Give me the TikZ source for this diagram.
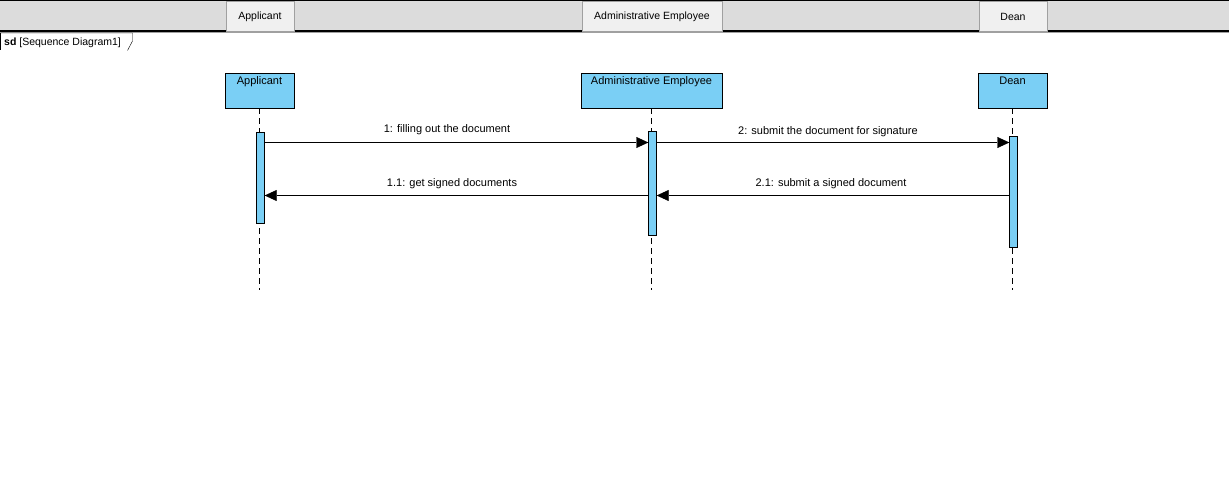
\documentclass[tikz,border=0pt]{standalone}
\usepackage{fontspec}
\setmainfont{Liberation Sans}
\usetikzlibrary{arrows.meta}

\definecolor{barGray}{HTML}{DCDCDC}
\definecolor{hdrFill}{HTML}{F0F0F0}
\definecolor{hdrLine}{HTML}{A0A0A0}
\definecolor{lifeBlue}{HTML}{7ACFF5}

\tikzset{
  hdrbox/.style={draw=hdrLine, fill=hdrFill, minimum height=30, inner sep=0pt, font=\fontsize{10.5}{12}\selectfont},
  headbox/.style={draw=black, fill=lifeBlue, minimum height=35, inner sep=0pt},
  headtext/.style={anchor=north, inner sep=0pt, yshift=-3.5, font=\fontsize{11}{13}\selectfont},
  actbar/.style={draw=black, fill=lifeBlue, minimum width=8, inner sep=0pt},
  lifeline/.style={dash pattern=on 6pt off 4pt},
  msg/.style={-{Triangle[length=12,width=11]}},
  msgtext/.style={inner sep=0pt, font=\fontsize{11}{13}\selectfont},
}

\begin{document}
\begin{tikzpicture}[x=1pt,y=1pt,yscale=-1,xscale=1]
\useasboundingbox (0,0) rectangle (1229,500);

%Shape: top bar
\fill[barGray] (0,0) rectangle (1229,31);
\draw[line width=1pt] (0,0.5) -- (1229,0.5);
\draw[line width=1.2pt] (0,31) -- (1229,31);
\draw[hdrLine] (0,32.2) -- (1229,32.2);

% Text Node
\node[hdrbox, minimum width=68] (hdrApp) at (260,16.5) {Applicant};
\node[hdrbox, minimum width=140] (hdrAdm) at (652,16.5) {Administrative Employee};
\node[hdrbox, minimum width=68] (hdrDean) at (1013,16.5) {Dean};

%Shape: frame tab
\draw (0.5,33) -- (132.5,33) -- (132.5,41) -- (127.5,50.5);
\draw (0.5,33) -- (0.5,50);
\node[anchor=west, inner sep=0pt, font=\fontsize{10.5}{12}\selectfont] (tab) at (4,42.5) {\textbf{sd} [Sequence Diagram1]};

%Shape: lifeline heads
\node[headbox, minimum width=69] (app) at (259.5,90.5) {};
\node[headtext] (appText) at (app.north) {Applicant};
\node[headbox, minimum width=141] (adm) at (651.5,90.5) {};
\node[headtext] (admText) at (adm.north) {Administrative Employee};
\node[headbox, minimum width=69] (dean) at (1012.5,90.5) {};
\node[headtext] (deanText) at (dean.north) {Dean};

%Shape: lifelines
\coordinate (appEnd) at (259.5,290);
\coordinate (admEnd) at (651.5,290);
\coordinate (deanEnd) at (1012.5,290);
\draw[lifeline] (app.south) -- (appEnd);
\draw[lifeline] (adm.south) -- (admEnd);
\draw[lifeline] (dean.south) -- (deanEnd);

%Shape: activation bars
\node[actbar, minimum height=91] (actApp) at (260.5,177.5) {};
\node[actbar, minimum height=104] (actAdm) at (652.5,183) {};
\node[actbar, minimum height=111] (actDean) at (1013.5,191.5) {};

%Shape: messages
\coordinate (m1) at (0,142.5);
\coordinate (m2) at (0,195.5);
\draw[msg] (actApp.east |- m1) -- (actAdm.west |- m1);
\draw[msg] (actAdm.east |- m1) -- (actDean.west |- m1);
\draw[msg] (actDean.west |- m2) -- (actAdm.east |- m2);
\draw[msg] (actAdm.west |- m2) -- (actApp.east |- m2);

% Text Node
\node[msgtext] (lbl1) at (447,129.5) {1: filling out the document};
\node[msgtext] (lbl2) at (828,131.5) {2: submit the document for signature};
\node[msgtext] (lbl21) at (831,183.5) {2.1: submit a signed document};
\node[msgtext] (lbl11) at (452,183.5) {1.1: get signed documents};
\end{tikzpicture}
\end{document}
